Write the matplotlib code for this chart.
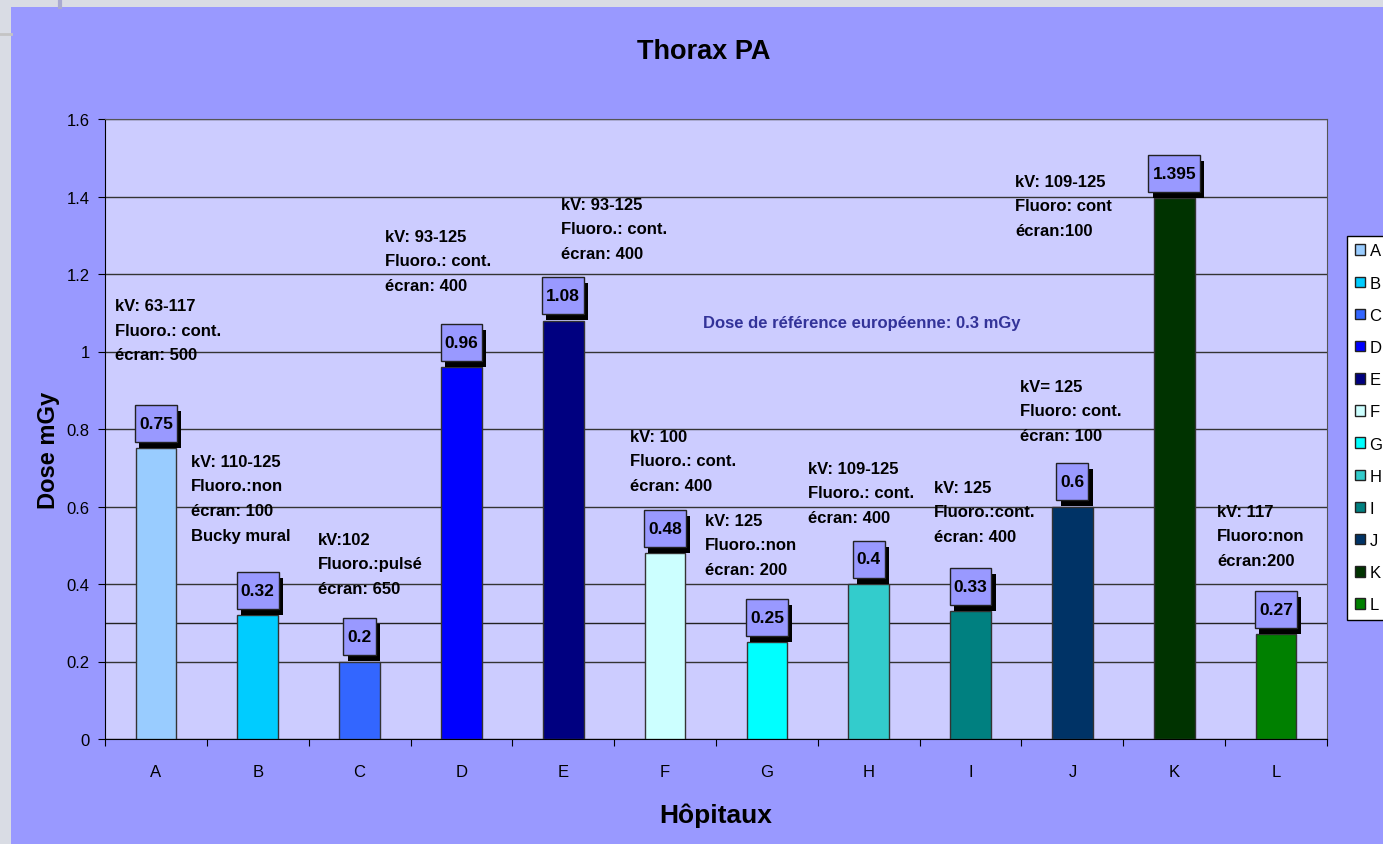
import matplotlib.pyplot as plt
import matplotlib.patheffects as pe
from matplotlib.patches import Rectangle
from matplotlib.path import Path
from matplotlib.transforms import Affine2D
from matplotlib.lines import Line2D

plt.rcParams['font.family'] = ['Liberation Sans', 'DejaVu Sans']

# données
hopitaux = ['A', 'B', 'C', 'D', 'E', 'F', 'G', 'H', 'I', 'J', 'K', 'L']
doses = [0.75, 0.32, 0.2, 0.96, 1.08, 0.48, 0.25, 0.4, 0.33, 0.6, 1.395, 0.27]
couleurs = ['#99ccff', '#00ccff', '#3366ff', '#0000ff', '#000080', '#ccffff',
            '#00ffff', '#33cccc', '#008080', '#003366', '#003300', '#008000']
dose_ref = 0.3
infos = [
    'kV: 63-117\nFluoro.: cont.\nécran: 500',
    'kV: 110-125\nFluoro.:non\nécran: 100\nBucky mural',
    'kV:102\nFluoro.:pulsé\nécran: 650',
    'kV: 93-125\nFluoro.: cont.\nécran: 400',
    'kV: 93-125\nFluoro.: cont.\nécran: 400',
    'kV: 100\nFluoro.: cont.\nécran: 400',
    'kV: 125\nFluoro.:non\nécran: 200',
    'kV: 109-125\nFluoro.: cont.\nécran: 400',
    'kV: 125\nFluoro.:cont.\nécran: 400',
    'kV= 125\nFluoro: cont.\nécran: 100',
    'kV: 109-125\nFluoro: cont\nécran:100',
    'kV: 117\nFluoro:non\nécran:200',
]
# position (coin haut gauche) des textes d'info, en coordonnées des données
pos_infos = [(-0.40, 1.138), (0.344, 0.736), (1.59, 0.535), (2.25, 1.317),
             (3.98, 1.400), (4.66, 0.801), (5.39, 0.584), (6.40, 0.718),
             (7.64, 0.669), (8.49, 0.930), (8.44, 1.459), (10.42, 0.607)]

W, H = 1383, 845
fig = plt.figure(figsize=(W / 100, H / 100), dpi=100, facecolor='#d9dce4')

# fond violet de la zone du graphique
fond = Rectangle((11 / W, 0), 1, 1 - 8 / H, transform=fig.transFigure,
                 facecolor='#9999ff', edgecolor='none', zorder=-2)
fig.add_artist(fond)
fig.add_artist(Line2D([60 / W, 60 / W], [1 - 8 / H, 1], transform=fig.transFigure,
                      color='#a9aad0', lw=3, zorder=-1))
fig.add_artist(Line2D([0, 11 / W], [1 - 35 / H, 1 - 35 / H], transform=fig.transFigure,
                      color='#c4c4c4', lw=2, zorder=-1))

ax = fig.add_axes([105 / W, 1 - 740 / H, 1222 / W, 620 / H])
ax.set_facecolor('#ccccff')

x = list(range(len(hopitaux)))
barres = ax.bar(x, doses, width=0.4, color=couleurs, edgecolor='#333333',
                linewidth=1, zorder=3)

ax.set_xlim(-0.5, 11.5)
ax.set_ylim(0, 1.6)
ax.set_yticks([0, 0.2, 0.4, 0.6, 0.8, 1, 1.2, 1.4, 1.6])
ax.set_yticklabels(['0', '0.2', '0.4', '0.6', '0.8', '1', '1.2', '1.4', '1.6'])
ax.yaxis.grid(True, color='#333333', lw=1)
ax.set_axisbelow(True)

# ticks entre les catégories, étiquettes au centre
ax.set_xticks([i - 0.5 for i in range(13)])
ax.set_xticklabels([])
ax.set_xticks(x, minor=True)
ax.set_xticklabels(hopitaux, minor=True)
ax.tick_params(axis='x', which='major', length=5, direction='out')
ax.tick_params(axis='x', which='minor', length=0, pad=18, labelsize=12)
ax.tick_params(axis='y', length=5, direction='out', pad=6, labelsize=12)

for s in ['left', 'bottom']:
    ax.spines[s].set_color('black')
for s in ['top', 'right']:
    ax.spines[s].set_color('#555555')

# ligne de référence européenne
ax.axhline(dose_ref, color='#222222', lw=1, zorder=2)
ax.text(5.37, 1.076, 'Dose de référence européenne: 0.3 mGy', color='#333399',
        fontsize=12, fontweight='bold', va='center', ha='left')


def boite(x0, y0, width, height, mutation_size):
    # boîte plus haute que large, comme dans Excel
    px, py = 4, 11
    return Path.unit_rectangle().transformed(
        Affine2D().scale(width + 2 * px, height + 2 * py).translate(x0 - px, y0 - py))


for i, v in enumerate(doses):
    t = ax.annotate(f'{v:g}', (i, v), xytext=(0, 18), textcoords='offset points',
                    ha='center', va='center', fontsize=12.5, fontweight='bold',
                    color='black', zorder=6,
                    bbox=dict(boxstyle=boite, facecolor='#9999ff', edgecolor='#222222', lw=1))
    # ombre noire décalée
    t.get_bbox_patch().set_path_effects([
        pe.SimplePatchShadow(offset=(3, -4.5), shadow_rgbFace='black', alpha=1),
        pe.Normal()])

for txt, (tx, ty) in zip(infos, pos_infos):
    ax.text(tx, ty, txt, ha='left', va='top', fontsize=12, fontweight='bold',
            linespacing=1.8, zorder=4)

# titres
fig.text(704 / W, 1 - 52 / H, 'Thorax PA', ha='center', va='center',
         fontsize=19.5, fontweight='bold')
fig.text(716 / W, 1 - 816 / H, 'Hôpitaux', ha='center', va='center',
         fontsize=19, fontweight='bold')
fig.text(48 / W, 1 - 450 / H, 'Dose mGy', ha='center', va='center', rotation=90,
         fontsize=17, fontweight='bold')

# légende
poignees = [Rectangle((0, 0), 1, 1, facecolor=c, edgecolor='#222222', lw=1) for c in couleurs]
fig.legend(poignees, hopitaux, loc='upper left', bbox_to_anchor=(1347 / W, 1 - 237 / H),
           fontsize=12, frameon=True, fancybox=False, edgecolor='black', facecolor='white',
           framealpha=1, handlelength=0.6, handleheight=0.6, handletextpad=0.3,
           labelspacing=1.03, borderpad=0.45, borderaxespad=0)

fig.savefig('out.png', dpi=100, facecolor=fig.get_facecolor())
